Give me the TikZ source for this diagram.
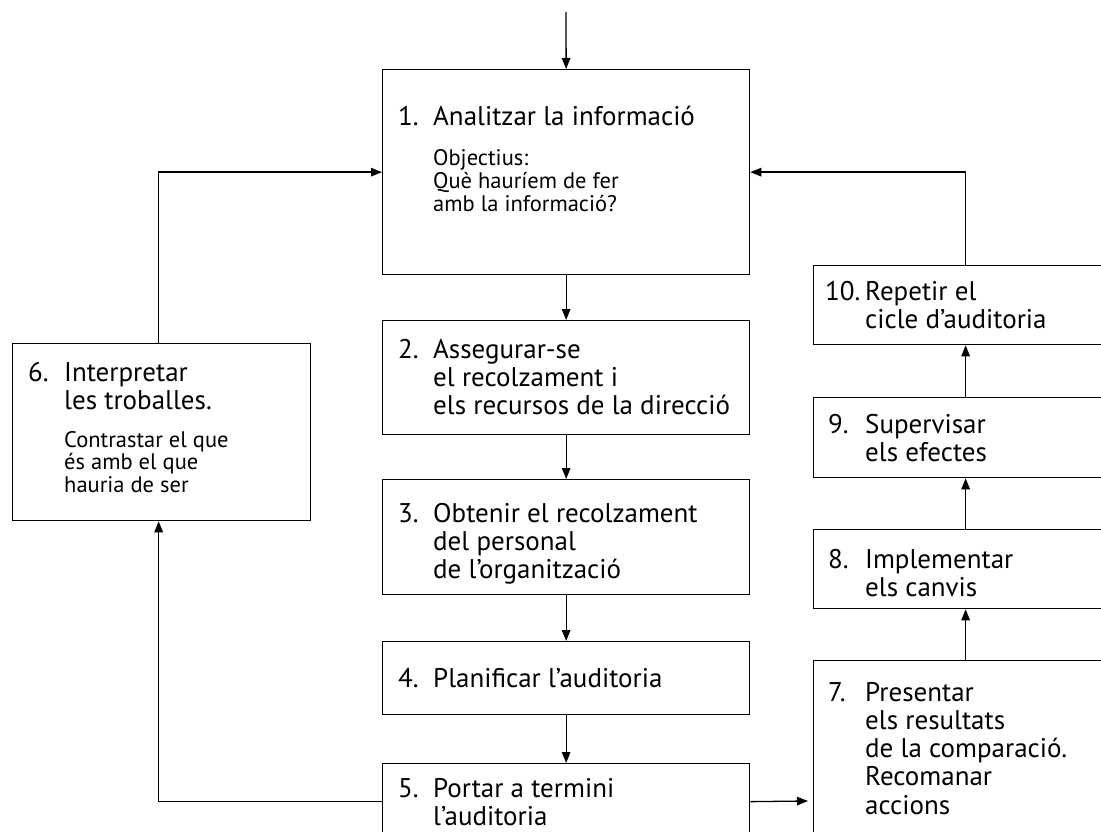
\documentclass[tikz,border=0pt]{standalone}
\usepackage{fontspec}
\setmainfont{PT Sans}
\usetikzlibrary{arrows.meta}
\newcommand\mylines[1]{\vtop{\lineskiplimit=-50pt\relax\halign{##\hfil\cr#1\crcr}}}
\begin{document}
\begin{tikzpicture}[x=1pt,y=-1pt,
  stepbox/.style={draw=black, line width=1.3pt, inner sep=0pt, anchor=north west, fill=none},
  bigtxt/.style={anchor=base west, inner sep=0pt, font=\fontsize{27}{28.3}\selectfont},
  smalltxt/.style={anchor=base west, inner sep=0pt, font=\fontsize{22.5}{22.8}\selectfont},
  conn/.style={line width=1.3pt, -{Triangle[length=11pt,width=8.5pt]}}]
\clip (0,0) rectangle (1101,832);
\fill[white] (0,0) rectangle (1101,832);
% boxes
\node[stepbox, minimum width=367pt, minimum height=205pt] (b1) at (382,69) {};
\node[stepbox, minimum width=367pt, minimum height=114pt] (b2) at (382,320) {};
\node[stepbox, minimum width=367pt, minimum height=115pt] (b3) at (382,479) {};
\node[stepbox, minimum width=367pt, minimum height=73pt] (b4) at (382,641) {};
\node[stepbox, minimum width=367pt, minimum height=76pt] (b5) at (382,763) {};
\node[stepbox, minimum width=298pt, minimum height=177pt] (b6) at (12,343) {};
\node[stepbox, minimum width=304pt, minimum height=200pt] (b7) at (813,660) {};
\node[stepbox, minimum width=304pt, minimum height=79pt] (b8) at (813,529) {};
\node[stepbox, minimum width=304pt, minimum height=80pt] (b9) at (813,397) {};
\node[stepbox, minimum width=304pt, minimum height=79pt] (b10) at (813,265) {};
% texts
\node[bigtxt] (n1) at (398,126) {1.};
\node[bigtxt] (t1) at (433,126) {\mylines{Analitzar la informació}};
\node[smalltxt] (s1) at (433,166) {\mylines{Objectius:\cr Què hauríem de fer\cr amb la informació?}};
\node[bigtxt] (n2) at (398,358) {2.};
\node[bigtxt] (t2) at (433,358) {\mylines{Assegurar-se\cr el recolzament i\cr els recursos de la direcció}};
\node[bigtxt] (n3) at (398,522) {3.};
\node[bigtxt] (t3) at (433,522) {\mylines{Obtenir el recolzament\cr del personal\cr de l’organització}};
\node[bigtxt] (n4) at (398,687) {4.};
\node[bigtxt] (t4) at (433,687) {\mylines{Planificar l’auditoria}};
\node[bigtxt] (n5) at (398,797) {5.};
\node[bigtxt] (t5) at (433,797) {\mylines{Portar a termini\cr l’auditoria}};
\node[bigtxt] (n6) at (28,381) {6.};
\node[bigtxt] (t6) at (64,381) {\mylines{Interpretar\cr les troballes.}};
\node[smalltxt] (s6) at (64,447) {\mylines{Contrastar el que\cr és amb el que\cr hauria de ser}};
\node[bigtxt] (n7) at (828,701) {7.};
\node[bigtxt] (t7) at (865,701) {\mylines{Presentar\cr els resultats\cr de la comparació.\cr Recomanar\cr accions}};
\node[bigtxt] (n8) at (828,568) {8.};
\node[bigtxt] (t8) at (865,568) {\mylines{Implementar\cr els canvis}};
\node[bigtxt] (n9) at (828,433) {9.};
\node[bigtxt] (t9) at (865,433) {\mylines{Supervisar\cr els efectes}};
\node[bigtxt] (n10) at (825,300) {10.};
\node[bigtxt] (t10) at (865,300) {\mylines{Repetir el\cr cicle d’auditoria}};
% connectors
\coordinate (start) at (566,12);
\coordinate (end5) at (808,801);
\draw[conn] (start) -- (b1.north);
\draw[conn] (b1.south) -- (b2.north);
\draw[conn] (b2.south) -- (b3.north);
\draw[conn] (b3.south) -- (b4.north);
\draw[conn] (b4.south) -- (b5.north);
\draw[conn] (b5.east) -- (end5);
\draw[conn] (b5.west) -| ([xshift=-3pt]b6.south);
\draw[conn] ([xshift=-3pt]b6.north) |- (b1.west);
\draw[conn] (b7.north) -- (b8.south);
\draw[conn] (b8.north) -- (b9.south);
\draw[conn] (b9.north) -- (b10.south);
\draw[conn] (b10.north) |- (b1.east);
\end{tikzpicture}
\end{document}
